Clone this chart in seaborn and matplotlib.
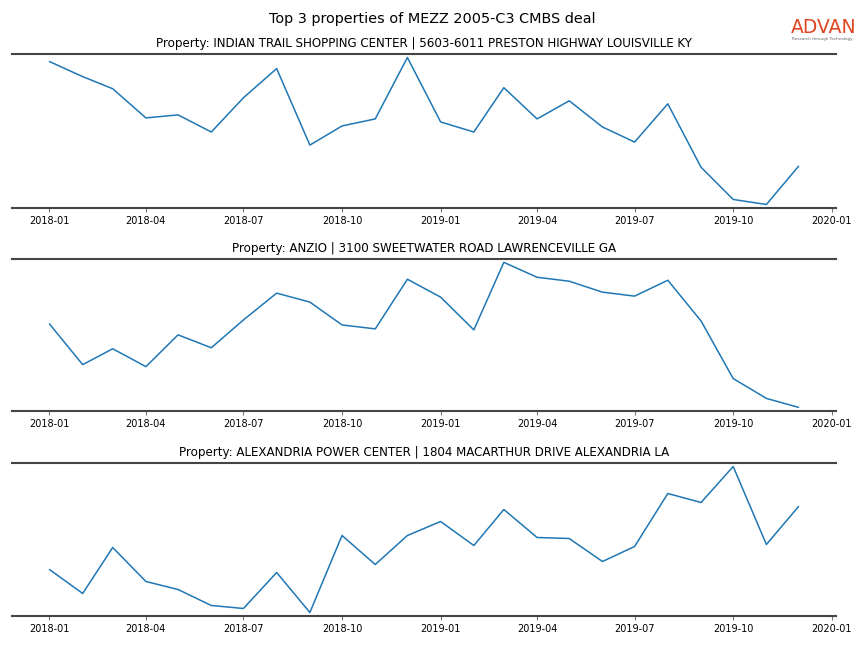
import numpy as np
import pandas as pd
import matplotlib
matplotlib.use('Agg')
import matplotlib.pyplot as plt
import matplotlib.dates as mdates
import seaborn as sns

## data (relative foot traffic)
months = pd.date_range('2018-01-01', '2019-12-01', freq='MS')

titles = [
    'Property: INDIAN TRAIL SHOPPING CENTER | 5603-6011 PRESTON HIGHWAY LOUISVILLE KY',
    'Property: ANZIO | 3100 SWEETWATER ROAD LAWRENCEVILLE GA',
    'Property: ALEXANDRIA POWER CENTER | 1804 MACARTHUR DRIVE ALEXANDRIA LA',
]

indian_trail = [145, 130, 118, 89, 92, 75, 109, 138, 62, 81, 88, 149,
                85, 75, 119, 88, 106, 80, 65, 103, 40, 8, 3, 41]
anzio = [86, 45, 61, 43, 75, 62, 90, 117, 108, 85, 81, 131,
         113, 80, 148, 133, 129, 118, 114, 130, 89, 31, 11, 2]
alexandria = [46, 22, 68, 34, 26, 10, 7, 43, 3, 80, 51, 80,
              94, 70, 106, 78, 77, 54, 69, 122, 113, 149, 71, 109]

series = [indian_trail, anzio, alexandria]

sns.set_style('white')
plt.rcParams['text.color'] = 'black'
plt.rcParams['xtick.color'] = 'black'
plt.rcParams['axes.labelcolor'] = 'black'
fig = plt.figure(figsize=(8.64, 6.48), dpi=100)

## axes boxes [left, bottom, width, height] in figure fraction
boxes = [
    [0.0139, 0.679, 0.9537, 0.2377],
    [0.0139, 0.366, 0.9537, 0.2345],
    [0.0139, 0.0494, 0.9537, 0.2361],
]

for box, title, vals in zip(boxes, titles, series):
    ax = fig.add_axes(box)
    df = pd.DataFrame({'date': months, 'value': vals})
    sns.lineplot(data=df, x='date', y='value', ax=ax, color='#1f77b4', linewidth=1.1)
    ax.margins(x=0.05, y=0.024)
    ax.set_title(title, fontsize=8.6, pad=5, color='black')
    ax.set_xlabel('')
    ax.set_ylabel('')
    ax.set_yticks([])
    ax.xaxis.set_major_locator(mdates.MonthLocator(bymonth=[1, 4, 7, 10]))
    ax.xaxis.set_major_formatter(mdates.DateFormatter('%Y-%m'))
    ax.tick_params(axis='x', labelsize=7, length=3, width=0.8, color='#777777',
                   labelcolor='black', bottom=True, pad=3)
    for side in ['left', 'right']:
        ax.spines[side].set_visible(False)
    for side in ['top', 'bottom']:
        ax.spines[side].set_color('#444444')
        ax.spines[side].set_linewidth(1.5)

fig.suptitle('Top 3 properties of MEZZ 2005-C3 CMBS deal', fontsize=10.4, y=0.982, color='black')

## logo
fig.text(0.9155, 0.957, 'ADVAN', color='#e0461e', fontsize=13.5, ha='left', va='center')
fig.text(0.9165, 0.940, 'Research through Technology', color='#666666', fontsize=3, ha='left', va='center')

plt.savefig('out.png', dpi=100)
